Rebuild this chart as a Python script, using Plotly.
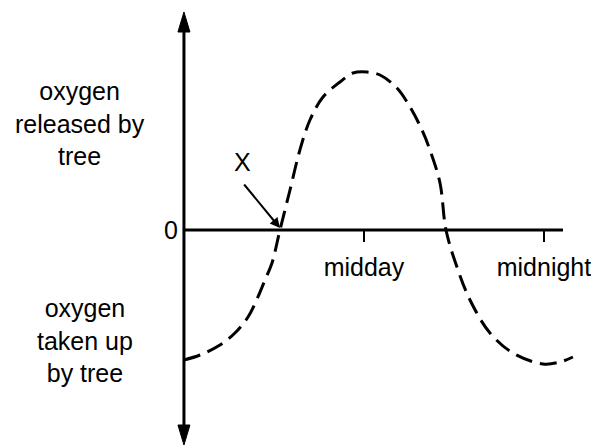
"""Daily oxygen exchange of a tree, drawn as a textbook-style sketch with Plotly."""
import plotly.graph_objects as go

# hours from midnight, and net oxygen release (arbitrary units, + released / - taken up)
hours = [0.0, 1.07, 2.4, 3.4, 4.27, 4.93, 5.4, 5.87, 6.4, 7.07, 7.73, 8.4, 9.27,
         10.4, 11.27, 12.2, 13.07, 14.2, 15.07, 15.87, 16.4, 17.07, 17.47, 18.2,
         19.07, 20.4, 21.93, 23.93, 25.07, 25.93]
oxygen = [-1.30, -1.25, -1.15, -1.03, -0.87, -0.67, -0.50, -0.33, 0.0, 0.40, 0.80,
          1.10, 1.33, 1.48, 1.57, 1.58, 1.55, 1.42, 1.23, 1.00, 0.80, 0.47, 0.0,
          -0.37, -0.70, -1.03, -1.23, -1.34, -1.32, -1.27]

tick_hours = [12, 24]
tick_labels = ["midday", "midnight"]
x_point = 6.4  # where the curve first crosses zero

# the page body keeps its default 8px margin, so the figure is 8px smaller
X_RANGE = [-11.73, 27.67]
Y_RANGE = [-2.17, 2.22]
AXIS_TOP, AXIS_BOTTOM, AXIS_RIGHT = 2.18, -2.15, 25.27
FONT = "Liberation Sans, Arial, sans-serif"

fig = go.Figure(go.Scatter(
    x=hours, y=oxygen, mode="lines", line_shape="spline",
    line=dict(color="black", width=3, dash="17px,8px"),
    hoverinfo="skip",
))

# axis lines
fig.add_shape(type="line", x0=0, y0=0, x1=AXIS_RIGHT, y1=0,
              line=dict(color="black", width=3), layer="below")
fig.add_shape(type="line", x0=0, y0=AXIS_BOTTOM + 0.15, x1=0, y1=AXIS_TOP - 0.15,
              line=dict(color="black", width=3), layer="below")

# arrowheads on the vertical axis (sized in pixels around the tips)
for tip, path in ((AXIS_TOP, "M0,0 L-6,-20 L6,-20 Z"),
                  (AXIS_BOTTOM, "M0,0 L-6,20 L6,20 Z")):
    fig.add_shape(type="path", xsizemode="pixel", ysizemode="pixel",
                  xanchor=0, yanchor=tip, path=path,
                  fillcolor="black", line=dict(color="black", width=1))

# label X and its pointer
fig.add_annotation(x=3.87, y=0.68, text="X", showarrow=False,
                   font=dict(size=25, color="black", family=FONT))
fig.add_annotation(x=x_point, y=0.02, ax=3.93, ay=0.47, axref="x", ayref="y",
                   text="", showarrow=True, arrowhead=2, arrowsize=1.0,
                   arrowwidth=2, arrowcolor="black", standoff=0)

fig.add_annotation(x=-6.93, y=1.07, text="oxygen<br>released by<br>tree",
                   showarrow=False, font=dict(size=25, color="black", family=FONT))
fig.add_annotation(x=-6.6, y=-1.10, text="oxygen<br>taken up<br>by tree",
                   showarrow=False, font=dict(size=25, color="black", family=FONT))

fig.update_layout(
    width=591, height=439,
    margin=dict(l=0, r=0, t=0, b=0),
    paper_bgcolor="white", plot_bgcolor="white",
    showlegend=False,
    font=dict(family=FONT, size=25, color="black"),
    xaxis=dict(
        range=X_RANGE, showgrid=False, zeroline=False, showline=False,
        tickvals=tick_hours, ticktext=tick_labels,
        ticks="outside", ticklen=11, tickwidth=2, tickcolor="black",
        ticklabelstandoff=4,
        anchor="free",
        position=(0 - Y_RANGE[0]) / (Y_RANGE[1] - Y_RANGE[0]),
    ),
    yaxis=dict(
        range=Y_RANGE, showgrid=False, zeroline=False, showline=False,
        tickvals=[0], ticktext=["0"], ticks="", ticklabelstandoff=6,
        anchor="free",
        position=(0 - X_RANGE[0]) / (X_RANGE[1] - X_RANGE[0]),
    ),
)

fig.write_html("out.html")
